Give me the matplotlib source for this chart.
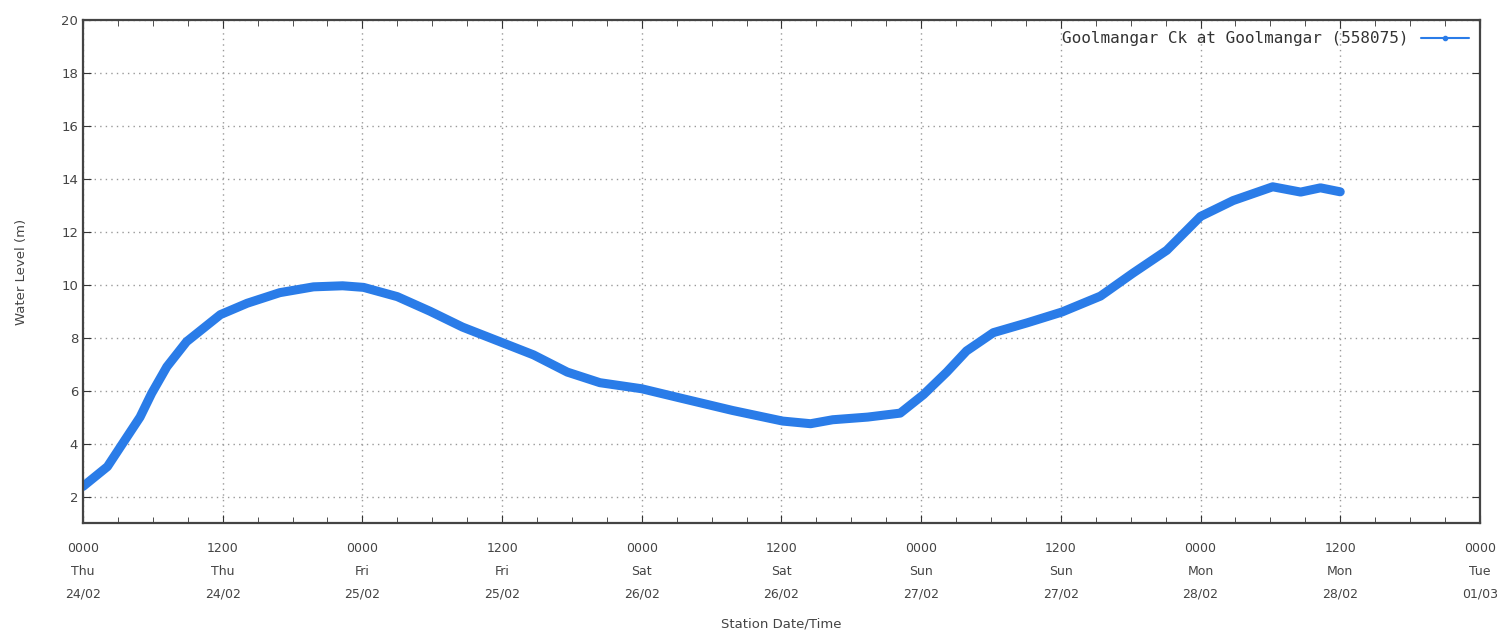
import numpy as np
import matplotlib
matplotlib.use('Agg')
import matplotlib.pyplot as plt
from matplotlib.ticker import MultipleLocator

# hours since 0000 Thu 24/02, water level (m)
hours = [0.0, 2.1, 3.4, 4.9, 5.9, 7.2, 8.9, 11.8, 14.1, 16.9, 19.8, 22.3, 24.1,
         27.0, 29.8, 32.6, 35.8, 38.7, 41.6, 44.4, 48.0, 51.5, 55.8, 60.1, 62.5,
         64.4, 67.4, 70.2, 72.2, 74.2, 75.9, 78.2, 81.1, 84.1, 87.4, 90.2, 93.1,
         96.0, 98.8, 102.2, 104.6, 106.3, 108.0]
level = [2.38, 3.13, 4.0, 5.0, 5.9, 6.9, 7.85, 8.87, 9.3, 9.7, 9.92, 9.96, 9.9,
         9.55, 9.0, 8.4, 7.85, 7.35, 6.7, 6.3, 6.07, 5.7, 5.25, 4.85, 4.75,
         4.9, 5.0, 5.15, 5.85, 6.7, 7.5, 8.19, 8.56, 8.97, 9.57, 10.44, 11.3,
         12.58, 13.18, 13.7, 13.5, 13.66, 13.51]

tick_hours = [0, 12, 24, 36, 48, 60, 72, 84, 96, 108, 120]
tick_labels = ['0000\nThu\n24/02', '1200\nThu\n24/02', '0000\nFri\n25/02',
               '1200\nFri\n25/02', '0000\nSat\n26/02', '1200\nSat\n26/02',
               '0000\nSun\n27/02', '1200\nSun\n27/02', '0000\nMon\n28/02',
               '1200\nMon\n28/02', '0000\nTue\n01/03']

series_name = 'Goolmangar Ck at Goolmangar (558075)'
line_color = '#2a7ce8'
text_color = '#444444'

fig = plt.figure(figsize=(15.12, 6.35), dpi=100)
ax = fig.add_axes([0.0549, 0.1764, 0.9239, 0.7921])

ax.plot(hours, level, color=line_color, linewidth=6.5, solid_capstyle='round',
        solid_joinstyle='round', label=series_name)

ax.set_xlim(0, 120)
ax.set_ylim(1, 20)
ax.set_xticks(tick_hours)
ax.set_xticklabels(tick_labels, fontsize=9, color=text_color, linespacing=1.95)
ax.xaxis.set_minor_locator(MultipleLocator(3))
ax.set_yticks(np.arange(2, 21, 2))
ax.tick_params(axis='y', labelsize=9.5, labelcolor=text_color)
ax.tick_params(which='both', direction='in', top=True, right=True,
               color='#333333')
ax.tick_params(which='major', length=6)
ax.tick_params(which='minor', length=4)
ax.tick_params(axis='x', pad=14)

for s in ax.spines.values():
    s.set_linewidth(1.6)
    s.set_color('#444444')

ax.grid(True, which='major', linestyle=(0, (1, 3)), color='#999999', linewidth=1)

ax.set_xlabel('Station Date/Time', fontsize=9.5, color=text_color, labelpad=12)
ax.set_ylabel('Water Level (m)', fontsize=9.5, color=text_color, labelpad=24)

leg = ax.legend(loc='upper right', frameon=False,
                prop={'family': 'DejaVu Sans Mono', 'size': 11.5},
                handlelength=3, borderaxespad=0.3, markerfirst=False)
for t in leg.get_texts():
    t.set_color('#333333')
for h in leg.legend_handles:
    h.set_linewidth(1.5)
    h.set_marker('o')
    h.set_markersize(3)

fig.savefig('out.png', dpi=100)
